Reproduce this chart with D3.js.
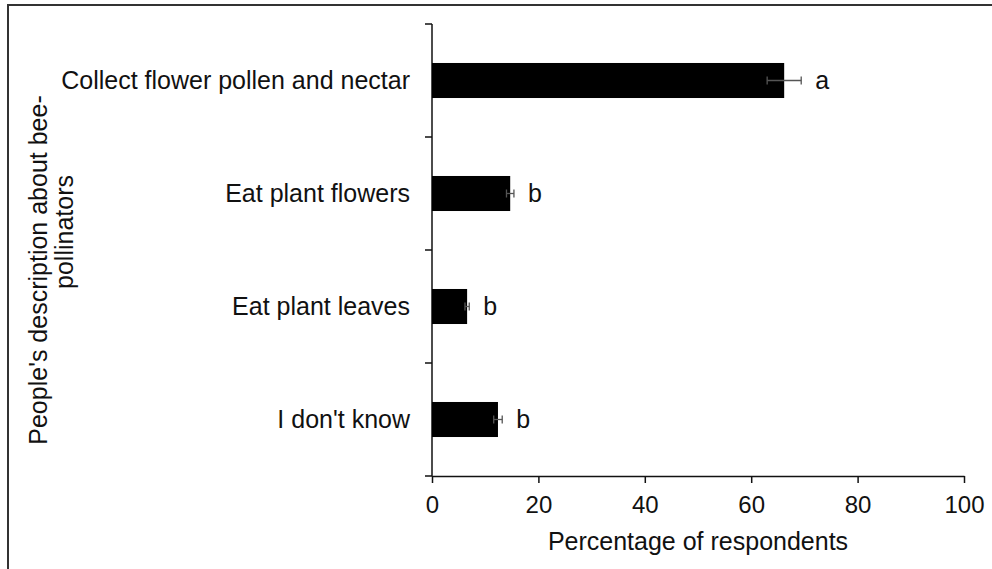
<!DOCTYPE html>
<html>
<head>
<meta charset="utf-8">
<script src="https://cdn.jsdelivr.net/npm/d3@7"></script>
<style>
  body { margin: 0; background: #fff; }
  svg { display: block; font-family: "Liberation Sans", Arial, sans-serif; }
</style>
</head>
<body>
<div id="chart"></div>
<script>
// Bee-pollinator descriptions chart
const categories = ["Collect flower pollen and nectar", "Eat plant flowers", "Eat plant leaves", "I don't know"];
const values = [66.2, 14.7, 6.6, 12.4];
const errors = [3.2, 0.7, 0.4, 0.8];
const letters = ["a", "b", "b", "b"];
const xTicks = [0, 20, 40, 60, 80, 100];

const width = 992, height = 569;
const ink = "#111";
const fs = "25px";

const svg = d3.select("#chart").append("svg")
    .attr("width", width)
    .attr("height", height);

// outer frame (right/bottom edges run off the picture)
svg.append("rect")
    .attr("x", 8).attr("y", 5)
    .attr("width", width).attr("height", height)
    .attr("fill", "none")
    .attr("stroke", "#333")
    .attr("stroke-width", 2);

// Scales
const x = d3.scaleLinear().domain([0, 100]).range([432, 964]);
const y = d3.scaleBand().domain(categories).range([24, 476]).padding(0);
const barH = y.bandwidth() * 0.31;

// X axis
const xAxis = svg.append("g").attr("transform", "translate(0,476)")
    .call(d3.axisBottom(x).tickValues(xTicks).tickSize(7).tickPadding(13).tickSizeOuter(0));
xAxis.select(".domain").attr("stroke", ink).attr("stroke-width", 1.5);
xAxis.selectAll(".tick line").attr("stroke", ink).attr("stroke-width", 1.5);
xAxis.selectAll(".tick text").attr("fill", ink).style("font-size", "24px");

// Y axis: line with ticks at band boundaries
const yg = svg.append("g");
yg.append("line")
    .attr("x1", x(0)).attr("x2", x(0))
    .attr("y1", y.range()[0]).attr("y2", y.range()[1])
    .attr("stroke", ink).attr("stroke-width", 1.5);
const bounds = categories.map(c => y(c)).concat([y.range()[1]]);
yg.selectAll("line.tk").data(bounds).enter().append("line")
    .attr("class", "tk")
    .attr("x1", x(0) - 7).attr("x2", x(0))
    .attr("y1", d => d).attr("y2", d => d)
    .attr("stroke", ink).attr("stroke-width", 1.5);

// Category labels
svg.selectAll("text.cat").data(categories).enter().append("text")
    .attr("class", "cat")
    .attr("x", 410)
    .attr("y", d => y(d) + y.bandwidth() / 2)
    .attr("dy", "0.35em")
    .attr("text-anchor", "end")
    .attr("fill", ink)
    .style("font-size", fs)
    .text(d => d);

// Bars
const rows = categories.map((c, i) => ({ c, v: values[i], e: errors[i], l: letters[i] }));
svg.selectAll("rect.bar").data(rows).enter().append("rect")
    .attr("class", "bar")
    .attr("x", x(0))
    .attr("y", d => y(d.c) + (y.bandwidth() - barH) / 2)
    .attr("width", d => x(d.v) - x(0))
    .attr("height", barH)
    .attr("fill", "#000");

// Error bars
const eb = svg.selectAll("g.err").data(rows).enter().append("g")
    .attr("class", "err")
    .attr("stroke", "#555")
    .attr("stroke-width", 1.3);
eb.append("line")
    .attr("x1", d => x(d.v - d.e)).attr("x2", d => x(d.v + d.e))
    .attr("y1", d => y(d.c) + y.bandwidth() / 2).attr("y2", d => y(d.c) + y.bandwidth() / 2);
eb.append("line")
    .attr("x1", d => x(d.v - d.e)).attr("x2", d => x(d.v - d.e))
    .attr("y1", d => y(d.c) + y.bandwidth() / 2 - 4).attr("y2", d => y(d.c) + y.bandwidth() / 2 + 4);
eb.append("line")
    .attr("x1", d => x(d.v + d.e)).attr("x2", d => x(d.v + d.e))
    .attr("y1", d => y(d.c) + y.bandwidth() / 2 - 4).attr("y2", d => y(d.c) + y.bandwidth() / 2 + 4);

// Significance letters
svg.selectAll("text.sig").data(rows).enter().append("text")
    .attr("class", "sig")
    .attr("x", d => x(d.v + d.e) + 14)
    .attr("y", d => y(d.c) + y.bandwidth() / 2)
    .attr("dy", "0.35em")
    .attr("fill", ink)
    .style("font-size", fs)
    .text(d => d.l);

// Axis titles
svg.append("text")
    .attr("x", 698).attr("y", 550)
    .attr("text-anchor", "middle")
    .attr("fill", ink)
    .style("font-size", fs)
    .text("Percentage of respondents");

svg.append("text")
    .attr("transform", "translate(47,270) rotate(-90)")
    .attr("text-anchor", "middle")
    .attr("fill", ink)
    .style("font-size", fs)
    .text("People's description about bee-");
svg.append("text")
    .attr("transform", "translate(73,232) rotate(-90)")
    .attr("text-anchor", "middle")
    .attr("fill", ink)
    .style("font-size", fs)
    .text("pollinators");
</script>
</body>
</html>
